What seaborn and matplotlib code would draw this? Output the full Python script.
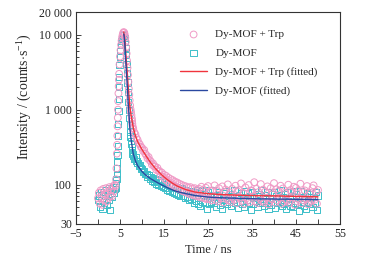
"""
Fluorescence decay of Dy-MOF with and without Trp
"""
import numpy as np
import matplotlib
matplotlib.use('Agg')
import matplotlib.pyplot as plt
import seaborn as sns

# measured counts, read off the decay curve
# pre-rise channels, 0 - 3.8 ns every 0.2 ns
time_pre = np.arange(0.0, 3.9, 0.2)
trp_pre = [66, 78, 56, 84, 70, 54, 88, 62, 75, 90, 60, 81, 67, 93, 72, 86, 70, 95, 82, 100]
mof_pre = [62, 72, 50, 80, 66, 48, 76, 58, 70, 86, 54, 74, 63, 90, 46, 82, 68, 92, 78, 88]

# rise and peak
time_peak = [4.0, 4.1, 4.2, 4.3, 4.35, 4.4, 4.45, 4.5, 4.55, 4.6, 4.65, 4.7, 4.75,
             4.8, 4.9, 5.0, 5.12, 5.24, 5.36, 5.48, 5.6, 5.72, 5.84, 5.96, 6.08,
             6.2, 6.3, 6.4, 6.5, 6.6, 6.7, 6.8, 6.9, 7.0, 7.1, 7.2, 7.3, 7.4, 7.5,
             7.6, 7.7, 7.75, 7.8, 7.85, 7.9]
trp_peak = [96, 118, 165, 260, 340, 450, 600, 780, 1000, 1300, 1650, 2050, 2500,
            3000, 4000, 5100, 6200, 7300, 8300, 9200, 9900, 10500, 10800, 10600, 10000,
            9100, 8000, 6800, 5600, 4500, 3600, 2900, 2350, 1900, 1580, 1330, 1140,
            1010, 930, 840, 760, 700, 650, 605, 565]
mof_peak = [92, 105, 120, 140, 165, 200, 250, 330, 450, 650, 950, 1400, 2000,
            2700, 3900, 5000, 6100, 7200, 8200, 9000, 9700, 10100, 10200, 9800, 9000,
            7900, 6600, 5300, 4100, 3100, 2300, 1700, 1280, 980, 770, 620, 510,
            440, 385, 345, 315, 290, 270, 255, 242]

# tail channels, 8 - 50 ns every 0.25 ns
time_tail = np.arange(8.0, 50.01, 0.25)
trp_tail = [560, 500, 470, 420, 395, 360, 345, 320, 310, 282, 290, 258,
            248, 225, 234, 212, 205, 185, 192, 176, 175, 158, 168, 152,
            152, 132, 145, 128, 136, 118, 131, 112, 124, 104, 119, 101,
            115, 97, 110, 93, 107, 88, 103, 86, 100, 82, 97, 80,
            95, 78, 92, 75, 93, 74, 89, 72, 90, 71, 86, 70,
            88, 68, 94, 67, 85, 66, 91, 64, 96, 65, 83, 62,
            84, 70, 98, 63, 82, 60, 90, 69, 66, 95, 58, 80,
            86, 64, 101, 62, 79, 59, 88, 67, 63, 97, 57, 81,
            85, 68, 104, 61, 78, 56, 92, 66, 62, 99, 59, 84,
            83, 70, 108, 60, 88, 57, 80, 65, 102, 61, 86, 58,
            81, 67, 95, 55, 60, 90, 64, 79, 105, 58, 87, 62,
            82, 66, 97, 56, 89, 59, 78, 63, 61, 100, 57, 85,
            80, 68, 94, 54, 91, 60, 83, 65, 103, 57, 79, 62,
            84, 64, 96, 55, 59, 78, 61, 90, 98, 63, 81, 56,
            85]
mof_tail = [250, 222, 230, 205, 196, 176, 182, 165, 162, 148, 154, 140,
            140, 126, 134, 120, 128, 114, 122, 108, 118, 104, 114, 100,
            115, 98, 110, 94, 108, 90, 102, 86, 101, 84, 97, 80,
            96, 79, 91, 75, 92, 74, 88, 70, 89, 71, 84, 66,
            86, 68, 81, 62, 83, 64, 79, 58, 80, 61, 85, 56,
            78, 52, 82, 60, 74, 58, 86, 47, 79, 55, 72, 60,
            84, 57, 70, 50, 73, 61, 80, 54, 69, 48, 77, 62,
            82, 56, 71, 59, 75, 52, 68, 63, 86, 57, 70, 49,
            72, 60, 78, 55, 68, 51, 83, 62, 77, 58, 71, 46,
            80, 55, 69, 61, 70, 50, 76, 58, 85, 57, 68, 53,
            73, 61, 79, 48, 67, 54, 74, 60, 81, 49, 70, 57,
            72, 59, 84, 52, 68, 55, 75, 47, 79, 60, 66, 53,
            71, 50, 82, 58, 74, 56, 69, 45, 83, 59, 67, 52,
            70, 48, 77, 60, 76, 55, 68, 51, 69, 58, 80, 46,
            72]

# fitted decays
fit_time = [5.85, 5.95, 6.05, 6.15, 6.3, 6.5, 6.7, 6.85, 7.05, 7.25, 7.5, 8.0, 8.5, 9,
            10, 11, 12, 13, 14, 15, 16, 17, 18, 20, 22, 25, 28, 32, 36, 40, 45, 50]
trp_fit = [10800, 10000, 9000, 7900, 5700, 4000, 2850, 2050, 1500, 1100, 850, 580,
           450, 375, 295, 238, 196, 166, 144, 127, 114, 104, 96, 86, 80, 76, 74,
           72.5, 71.5, 71, 70, 69]
mof_fit = [10200, 9300, 8000, 6700, 4500, 2900, 1900, 1250, 850, 560, 410, 260,
           208, 180, 150, 132, 120, 111, 103, 96, 90, 85, 81, 76, 72, 68.5, 67,
           66, 65, 64.5, 64, 63.5]

y_ticks = [30, 100, 1000, 10000, 20000]
y_tick_labels = ['30', '100', '1 000', '10 000', '20 000']
x_ticks = [-5, 5, 15, 25, 35, 45, 55]

PINK = '#f09ac6'
CYAN = '#3dbfc9'
RED = '#f0343c'
BLUE = '#2a48a0'

sns.set_style('ticks')
plt.rcParams['font.family'] = ['Liberation Serif', 'DejaVu Serif']
plt.rcParams['mathtext.fontset'] = 'custom'
plt.rcParams['mathtext.rm'] = 'Liberation Serif'
plt.rcParams['mathtext.it'] = 'Liberation Serif:italic'
plt.rcParams['axes.unicode_minus'] = True

time_all = np.concatenate([time_pre, time_peak, time_tail])
trp_all = np.concatenate([trp_pre, trp_peak, trp_tail])
mof_all = np.concatenate([mof_pre, mof_peak, mof_tail])

fig = plt.figure(figsize=(3.7, 2.64), dpi=100)
ax = fig.add_axes([76 / 370, 1 - 224 / 264, 264 / 370, 212 / 264])

sns.scatterplot(x=time_all, y=mof_all, ax=ax, marker='s', s=20,
                linewidth=0.7, label='Dy-MOF', zorder=2)
sns.scatterplot(x=time_all, y=trp_all, ax=ax, marker='o', s=24,
                linewidth=0.7, label='Dy-MOF + Trp', zorder=3)
for coll, col in zip(ax.collections, [CYAN, PINK]):
    coll.set_facecolor('none')
    coll.set_edgecolor(col)

sns.lineplot(x=fit_time, y=trp_fit, ax=ax, color=RED, linewidth=1.0,
             label='Dy-MOF + Trp (fitted)', zorder=4)
sns.lineplot(x=fit_time, y=mof_fit, ax=ax, color=BLUE, linewidth=1.0,
             label='Dy-MOF (fitted)', zorder=5)

ax.set_yscale('log')
ax.set_ylim(30, 20000)
ax.set_xlim(-5, 55)
ax.set_yticks(y_ticks)
ax.set_yticklabels(y_tick_labels)
ax.set_xticks(x_ticks)
ax.set_xticks(np.arange(0, 51, 10), minor=True)
ax.tick_params(axis='both', which='both', direction='in', labelsize=8.5,
               colors='#222222', width=0.6, pad=3)
ax.tick_params(axis='both', which='major', length=3.5)
ax.tick_params(axis='x', which='minor', length=3.5)
ax.tick_params(axis='y', which='minor', length=2)
for sp in ax.spines.values():
    sp.set_linewidth(0.8)
    sp.set_color('#333333')

ax.set_xlabel('Time / ns', fontsize=9, labelpad=3)
ax.set_ylabel('Intensity / (counts$\\cdot$s$^{-1}$)', fontsize=10)
ax.yaxis.set_label_coords(-0.16, 0.6)

h, l = ax.get_legend_handles_labels()
order = [1, 0, 2, 3]
ax.legend([h[i] for i in order], [l[i] for i in order], loc='upper right',
          frameon=False, fontsize=8, handlelength=2.5, handletextpad=0.7,
          labelspacing=0.8, borderaxespad=0.8, borderpad=0.5,
          bbox_to_anchor=(0.97, 0.985))

fig.savefig('out.png', dpi=100)
